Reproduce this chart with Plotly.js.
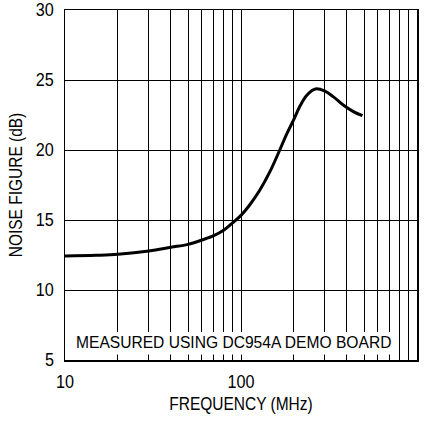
<!DOCTYPE html>
<html>
<head>
<meta charset="utf-8">
<script src="https://cdn.plot.ly/plotly-3.0.1.min.js"></script>
<style>html,body{margin:0;padding:0;background:#fff;}#chart{width:437px;height:421px;}</style>
</head>
<body>
<div id="chart"></div>
<script>
const freqMHz = [10, 15, 20, 30, 40, 50, 60, 70, 80, 90, 100, 112, 128, 146, 166, 182, 200, 216, 236, 265, 300, 334, 381, 435, 490];
const noiseFigure = [12.43, 12.48, 12.55, 12.78, 13.05, 13.26, 13.57, 13.88, 14.29, 14.82, 15.33, 16.07, 17.14, 18.45, 20.0, 21.15, 22.2, 23.12, 23.9, 24.36, 24.2, 23.81, 23.21, 22.74, 22.45];
const xTickVals = [10, 20, 30, 40, 50, 60, 70, 80, 90, 100, 200, 300, 400, 500, 600, 700, 800, 900, 1000];
const xTickText = ['10', '', '', '', '', '', '', '', '', '100', '', '', '', '', '', '', '', '', '1000'];
const yTickVals = [5, 10, 15, 20, 25, 30];
const xTitle = 'FREQUENCY (MHz)';
const yTitle = 'NOISE FIGURE (dB)';
const note = 'MEASURED USING DC954A DEMO BOARD';

const FONT = '"Liberation Sans Narrow", "Arial Narrow", "Liberation Sans", Arial, sans-serif';

const trace = {
  x: freqMHz, y: noiseFigure, type: 'scatter', mode: 'lines',
  line: {color: '#000', width: 3, shape: 'spline', smoothing: 1},
  hoverinfo: 'none'
};

const layout = {
  width: 437, height: 421,
  margin: {l: 65, r: 20, t: 10, b: 61},
  paper_bgcolor: '#fff', plot_bgcolor: '#fff',
  font: {family: FONT, size: 18, color: '#000'},
  showlegend: false,
  xaxis: {
    type: 'log', range: [1, 3],
    tickvals: xTickVals, ticktext: xTickText,
    showgrid: true, gridcolor: '#000', gridwidth: 1,
    showline: true, linecolor: '#000', linewidth: 1.5, mirror: true,
    ticks: 'outside', ticklen: 5, tickcolor: 'rgba(0,0,0,0)',
    zeroline: false,
    tickfont: {family: FONT, size: 18, color: '#000'},
    title: {text: xTitle, font: {family: FONT, size: 18, color: '#000'}, standoff: 6}
  },
  yaxis: {
    range: [5, 30], tickvals: yTickVals,
    showgrid: true, gridcolor: '#000', gridwidth: 1,
    showline: true, linecolor: '#000', linewidth: 1.5, mirror: true,
    ticks: 'outside', ticklen: 6, tickcolor: 'rgba(0,0,0,0)',
    zeroline: false,
    tickfont: {family: FONT, size: 18, color: '#000'},
    title: {text: yTitle, font: {family: FONT, size: 18, color: '#000'}, standoff: 6}
  },
  shapes: [{
    type: 'rect', layer: 'above', xref: 'paper', yref: 'y',
    x0: 0.02, x1: 0.935, y0: 5.4, y1: 7.0,
    fillcolor: '#fff', line: {width: 0}
  }],
  annotations: [{
    xref: 'paper', yref: 'y', x: 0.479, y: 6.25,
    text: note, showarrow: false,
    font: {family: FONT, size: 15.6, color: '#000'}
  }]
};

Plotly.newPlot('chart', [trace], layout, {staticPlot: true, displayModeBar: false}).then(function (gd) {
  // condense glyphs of axis texts to imitate the narrow typeface of the original
  gd.querySelectorAll('.xtick text, .ytick text, .g-xtitle text, .g-ytitle text').forEach(function (t) {
    const len = t.getComputedTextLength();
    if (!len) return;
    const isTick = t.closest('.xtick, .ytick');
    const k = isTick ? 0.9 : 0.86;
    t.setAttribute('textLength', (len * k).toFixed(2));
    t.setAttribute('lengthAdjust', 'spacingAndGlyphs');
  });
});
</script>
</body>
</html>
